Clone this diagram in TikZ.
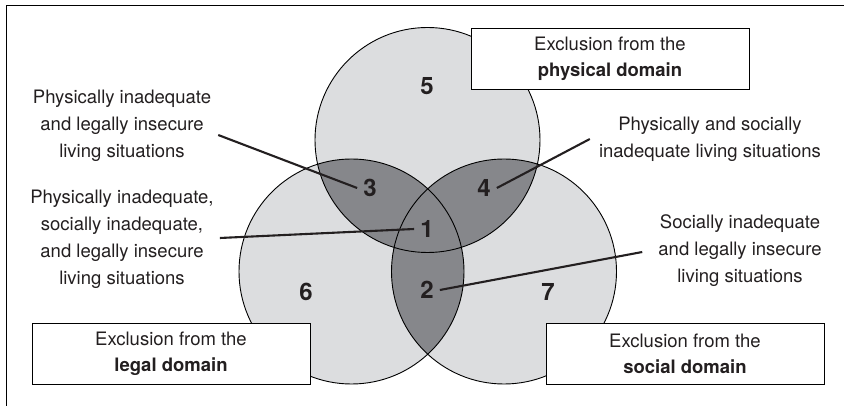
\documentclass[tikz,border=0pt]{standalone}
\usepackage{fontspec}
\setmainfont{TeX Gyre Heros}
\definecolor{lightzone}{RGB}{220,221,223}
\definecolor{darkzone}{RGB}{134,135,139}
\definecolor{inkgray}{RGB}{35,31,32}

\begin{document}
\begin{tikzpicture}[
  x=1pt, y=-1pt,
  ring/.style={radius=112.5pt},
  ringline/.style={draw=black, line width=0.9pt},
  situation/.style={text=inkgray, align=center, inner sep=0pt, font=\fontsize{18.5}{27}\selectfont},
  zonenum/.style={text=inkgray, inner sep=6pt, font=\fontsize{24}{28}\selectfont\bfseries},
  domainbox/.style={draw=black, line width=0.8pt, fill=white, text=inkgray, align=center,
    minimum width=278pt, minimum height=61pt, font=\fontsize{18.5}{26}\selectfont},
  leader/.style={draw=inkgray, line width=2.1pt}
  ]

  \clip (0,0) rectangle (844,406);
  \draw[line width=0.9pt] (6.5,5) rectangle (880,440);

  % Circles
  \coordinate (physical) at (427.5,140);
  \coordinate (legal) at (351.5,271.5);
  \coordinate (social) at (504,271.5);
  \fill[lightzone] (physical) circle[ring] (legal) circle[ring] (social) circle[ring];
  \begin{scope}
    \clip (physical) circle[ring];
    \fill[darkzone] (legal) circle[ring] (social) circle[ring];
  \end{scope}
  \begin{scope}
    \clip (legal) circle[ring];
    \fill[darkzone] (social) circle[ring];
  \end{scope}
  \draw[ringline] (physical) circle[ring] (legal) circle[ring] (social) circle[ring];

  % Nodes
  \node (n1) [zonenum] at (427,229) {1};
  \node (n2) [zonenum] at (427,290) {2};
  \node (n3) [zonenum] at (370,188) {3};
  \node (n4) [zonenum] at (484,188) {4};
  \node (n5) [zonenum] at (427,86) {5};
  \node (n6) [zonenum] at (306,292) {6};
  \node (n7) [zonenum] at (548,292) {7};

  \node (physicalbox) [domainbox] at (610,59) {Exclusion from the\\\textbf{physical domain}};
  \node (legalbox) [domainbox] at (171,353.5) {Exclusion from the\\\textbf{legal domain}};
  \node (socialbox) [domainbox] at (685,353.5) {Exclusion from the\\\textbf{social domain}};

  \node (physlegal) [situation] at (122,126) {Physically inadequate\\and legally insecure\\living situations};
  \node (allthree) [situation] at (122,239) {Physically inadequate,\\socially inadequate,\\and legally insecure\\living situations};
  \node (physsocial) [situation] at (710,139) {Physically and socially\\inadequate living situations};
  \node (sociallegal) [situation] at (740,251) {Socially inadequate\\and legally insecure\\living situations};

  % Connections
  \draw[leader] ([shift={(7,9)}]physlegal.east) -- (n3.west);
  \draw[leader] ([shift={(6,-1)}]allthree.east) -- (n1.west);
  \draw[leader] ([shift={(-9,0)}]physsocial.west) -- (n4.east);
  \draw[leader] ([shift={(-16,1)}]sociallegal.west) -- (n2.east);

\end{tikzpicture}
\end{document}
